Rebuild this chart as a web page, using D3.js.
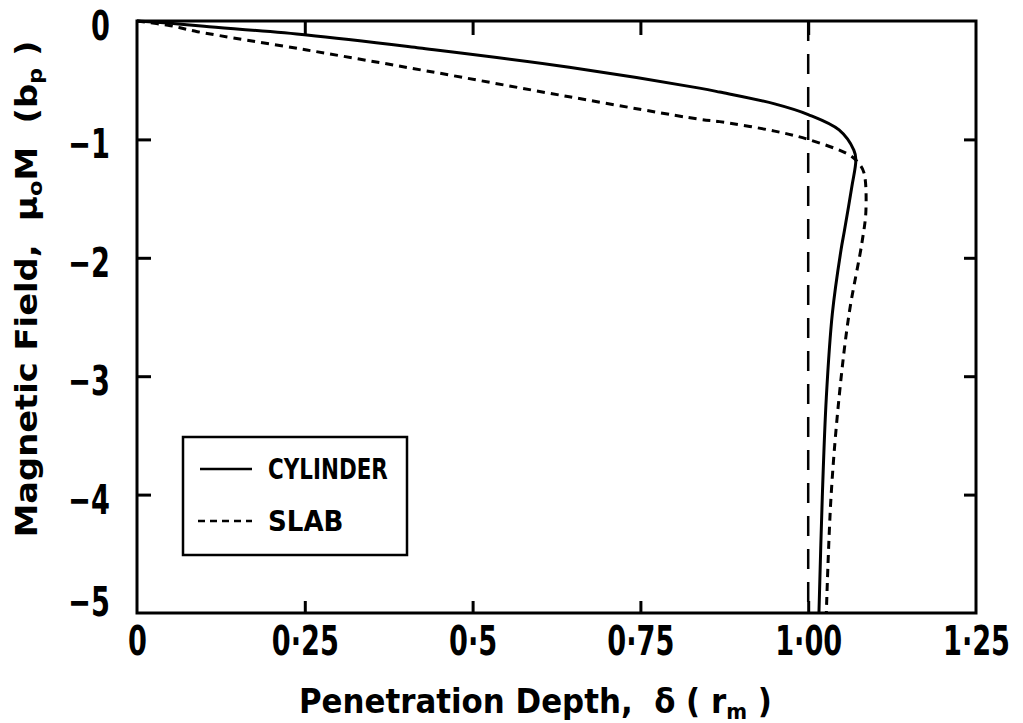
<!DOCTYPE html>
<html>
<head>
<meta charset="utf-8">
<script src="https://cdn.jsdelivr.net/npm/d3@7"></script>
<style>
  html, body { margin: 0; padding: 0; background: #fff; }
  svg text { font-family: "DejaVu Sans", sans-serif; font-weight: bold; fill: #000; white-space: pre; }
</style>
</head>
<body>
<svg id="chart" width="1023" height="723"></svg>
<script>
// penetration depth (r_m) vs magnetic field (b_p)
const cylDelta = [0, 0.05, 0.1, 0.253, 0.421, 0.644, 0.838, 0.868, 0.95, 1.0, 1.046, 1.068, 1.071, 1.065, 1.054, 1.049, 1.036, 1.027, 1.021, 1.016];
const cylField = [0, -0.02, -0.045, -0.118, -0.228, -0.39, -0.567, -0.60, -0.70, -0.79, -0.92, -1.09, -1.17, -1.4, -1.77, -1.93, -2.47, -3.18, -4.02, -5];

const slabDelta = [0, 0.05, 0.09, 0.253, 0.43, 0.644, 0.838, 0.868, 0.95, 1.0, 1.061, 1.075, 1.083, 1.086, 1.080, 1.061, 1.046, 1.034, 1.027];
const slabField = [0, -0.04, -0.09, -0.245, -0.42, -0.64, -0.83, -0.85, -0.93, -1.0, -1.13, -1.2, -1.28, -1.6, -1.875, -2.47, -3.18, -4.02, -5];

const xTicks = [0, 0.25, 0.5, 0.75, 1.0, 1.25];
const xTickLabels = ["0", "0·25", "0·5", "0·75", "1·00", "1·25"];
const yTicks = [0, -1, -2, -3, -4, -5];
const yTickLabels = ["0", "−1", "−2", "−3", "−4", "−5"];
const legendNames = ["CYLINDER", "SLAB"];

const svg = d3.select("#chart");
const x = d3.scaleLinear().domain([0, 1.25]).range([137, 976]);
const y = d3.scaleLinear().domain([0, -5]).range([21, 613]);

// the original lettering is narrow: squeeze with a horizontal scale
const K = 0.68;

const inner = xTicks.slice(1, -1);
const innerY = yTicks.slice(1, -1);

svg.append("g")
    .attr("transform", `translate(0,${y(-5)})`)
    .call(d3.axisBottom(x).tickValues(xTicks).tickSize(0).tickPadding(14)
        .tickFormat((d, i) => xTickLabels[i]))
    .call(g => g.select(".domain").remove())
    .call(g => g.selectAll("text")
        .attr("font-size", 40).attr("fill", "#000")
        .attr("transform", `scale(${K},1)`));

svg.append("g")
    .attr("transform", `translate(${x(0)},0)`)
    .call(d3.axisLeft(y).tickValues(yTicks).tickSize(0).tickPadding(27)
        .tickFormat((d, i) => yTickLabels[i]))
    .call(g => g.select(".domain").remove())
    .call(g => g.selectAll("text")
        .attr("font-size", 40).attr("fill", "#000")
        .attr("x", -27 / K)
        .attr("transform", `scale(${K},1)`)
        .attr("dy", d => d === -5 ? "0.05em" : "0.46em"));

svg.selectAll("g").attr("font-family", null);

// inward ticks on all four sides
svg.append("g")
    .attr("transform", `translate(0,${y(-5)})`)
    .call(d3.axisBottom(x).tickValues(inner).tickSize(-12).tickFormat(""))
    .call(g => g.select(".domain").remove());
svg.append("g")
    .attr("transform", `translate(0,${y(0)})`)
    .call(d3.axisTop(x).tickValues(inner).tickSize(-14).tickFormat(""))
    .call(g => g.select(".domain").remove());
svg.append("g")
    .attr("transform", `translate(${x(0)},0)`)
    .call(d3.axisLeft(y).tickValues(innerY).tickSize(-14).tickFormat(""))
    .call(g => g.select(".domain").remove());
svg.append("g")
    .attr("transform", `translate(${x(1.25)},0)`)
    .call(d3.axisRight(y).tickValues(innerY).tickSize(-12).tickFormat(""))
    .call(g => g.select(".domain").remove());

svg.selectAll(".tick line").attr("stroke", "#000").attr("stroke-width", 3);

// frame
svg.append("rect")
    .attr("x", x(0)).attr("y", y(0))
    .attr("width", x(1.25) - x(0)).attr("height", y(-5) - y(0))
    .attr("fill", "none").attr("stroke", "#000").attr("stroke-width", 3);

// delta = r_m reference line
svg.append("line")
    .attr("x1", x(1)).attr("x2", x(1)).attr("y1", y(0)).attr("y2", y(-5))
    .attr("stroke", "#000").attr("stroke-width", 2.5).attr("stroke-dasharray", "20,13");

const line = d3.line().curve(d3.curveCatmullRom.alpha(0.5))
    .x(d => x(d[0])).y(d => y(d[1]));

svg.append("path")
    .datum(d3.zip(cylDelta, cylField))
    .attr("d", line)
    .attr("fill", "none").attr("stroke", "#000").attr("stroke-width", 3);

svg.append("path")
    .datum(d3.zip(slabDelta, slabField))
    .attr("d", line)
    .attr("fill", "none").attr("stroke", "#000").attr("stroke-width", 3)
    .attr("stroke-dasharray", "8,6");

// legend
const lg = svg.append("g");
lg.append("rect").attr("x", 183).attr("y", 437).attr("width", 224).attr("height", 118)
    .attr("fill", "#fff").attr("stroke", "#000").attr("stroke-width", 2.5);
lg.append("line").attr("x1", 200).attr("x2", 252).attr("y1", 469).attr("y2", 469)
    .attr("stroke", "#000").attr("stroke-width", 2.5);
lg.append("line").attr("x1", 198).attr("x2", 252).attr("y1", 521).attr("y2", 521)
    .attr("stroke", "#000").attr("stroke-width", 2.5).attr("stroke-dasharray", "7,5");
lg.selectAll("text.leg")
    .data(legendNames)
    .join("text")
    .attr("class", "leg")
    .attr("font-size", 29)
    .attr("transform", (d, i) => `translate(268,${i === 0 ? 479 : 531}) scale(${i === 0 ? 0.74 : 0.9},1)`)
    .text(d => d);

// axis titles, scaled to the width they take in the original
function fitWidth(t, w) {
    const n = t.node().getBBox().width;
    return w / n;
}

const xt = svg.append("text").attr("font-size", 34);
xt.append("tspan").text("Penetration Depth,  δ ( r");
xt.append("tspan").attr("font-size", 22).attr("dy", 6).text("m");
xt.append("tspan").attr("dy", -6).text(" )");
xt.attr("transform", `translate(299,713) scale(${fitWidth(xt, 473)},1)`);

const yt = svg.append("text").attr("font-size", 30).attr("text-anchor", "middle");
yt.append("tspan").text("Magnetic Field,  μ");
yt.append("tspan").attr("font-size", 20).attr("dy", 5).text("o");
yt.append("tspan").attr("dy", -5).text("M  (b");
yt.append("tspan").attr("font-size", 20).attr("dy", 5).text("p");
yt.append("tspan").attr("dy", -5).text(" )");
yt.attr("transform", `translate(37,289) rotate(-90) scale(${fitWidth(yt, 497)},1)`);
</script>
</body>
</html>
